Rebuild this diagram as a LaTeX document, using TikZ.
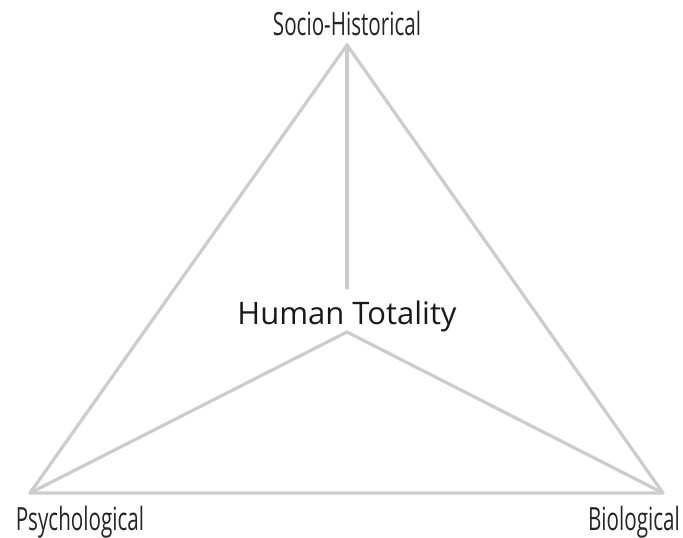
\documentclass[tikz,border=0pt]{standalone}
\usepackage{fontspec}
\setmainfont{Open Sans}
\newfontfamily\condfont[FakeStretch=0.645]{Open Sans}
\begin{document}
\begin{tikzpicture}[x=1pt,y=-1pt,
  edge/.style={draw=black!20, line width=3.2pt, line cap=round, line join=round},
  corner/.style={font=\condfont\fontsize{32}{32}\selectfont, text=black!85, inner sep=0pt},
  centre/.style={font=\fontsize{31}{31}\selectfont, text=black!90, inner sep=0pt}]
\useasboundingbox (0,0) rectangle (683,538);
\coordinate (T) at (347,45);
\coordinate (L) at (30,493);
\coordinate (R) at (663,493);
\coordinate (U) at (347,288);
\coordinate (C) at (347,332);
\draw[edge] (T) -- (L) -- (R) -- cycle;
\draw[edge] (T) -- (U);
\draw[edge] (L) -- (C) -- (R);
\node[centre, anchor=base] (ht) at (347,324) {Human Totality};
\node[corner, anchor=base] (sh) at (347,35) {Socio-Historical};
\node[corner, anchor=base] (ps) at (80,530) {Psychological};
\node[corner, anchor=base] (bi) at (634,530) {Biological};
\end{tikzpicture}
\end{document}
